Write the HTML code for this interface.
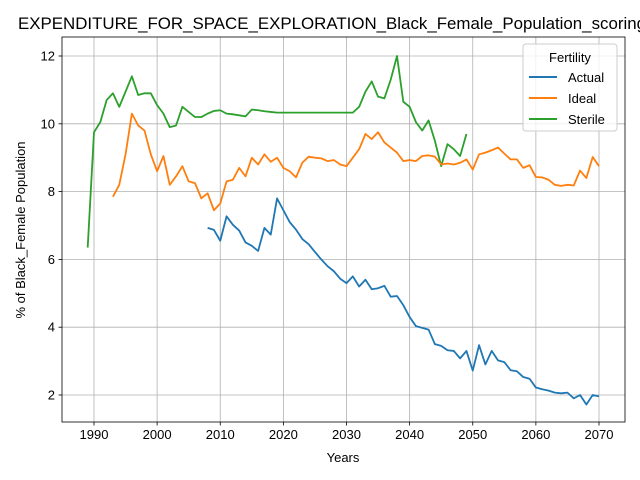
<!DOCTYPE html>
<html><head><meta charset="utf-8"><style>
body{margin:0;background:#fff;font-family:"Liberation Sans","DejaVu Sans",sans-serif;}
svg{display:block}
</style></head><body>
<svg id="chart" width="640" height="480" viewBox="0 0 640 480">
<rect width="640" height="480" fill="#fff"/>
<text x="18" y="29" text-anchor="start" font-size="16.5" textLength="628" lengthAdjust="spacingAndGlyphs" fill="#000">EXPENDITURE_FOR_SPACE_EXPLORATION_Black_Female_Population_scoring</text>
<g id="grid"></g><g id="series"></g><g id="axes"></g>
<text x="343" y="462" text-anchor="middle" font-size="13">Years</text>
<text transform="translate(25,230) rotate(-90)" text-anchor="middle" font-size="13">% of Black_Female Population</text>
<g>
<rect x="523" y="44" width="94" height="87" rx="3" fill="#fff" fill-opacity="0.8" stroke="#ccc"/>
<text x="570" y="62" text-anchor="middle" font-size="13">Fertility</text>
<g><line x1="529" y1="77" x2="557" y2="77" stroke="#1f77b4" stroke-width="2"/><text x="568" y="82" font-size="13">Actual</text></g>
<g><line x1="529" y1="98" x2="557" y2="98" stroke="#ff7f0e" stroke-width="2"/><text x="568" y="103" font-size="13">Ideal</text></g>
<g><line x1="529" y1="119" x2="557" y2="119" stroke="#2ca02c" stroke-width="2"/><text x="568" y="124" font-size="13">Sterile</text></g>
</g>
</svg>
<script>
const sterileStart = 1989;
const sterileValues = [6.35,9.75,10.05,10.7,10.9,10.5,10.95,11.4,10.85,10.9,10.9,10.55,10.3,9.9,9.95,10.5,10.35,10.2,10.2,10.3,10.38,10.4,10.3,10.28,10.25,10.22,10.42,10.4,10.37,10.35,10.33,10.33,10.33,10.33,10.33,10.33,10.33,10.33,10.33,10.33,10.33,10.33,10.33,10.5,10.95,11.25,10.8,10.75,11.3,12.0,10.65,10.5,10.05,9.8,10.1,9.5,8.75,9.4,9.25,9.05,9.7];
const idealStart = 1993;
const idealValues = [7.85,8.2,9.1,10.3,9.95,9.8,9.1,8.6,9.05,8.2,8.45,8.75,8.3,8.25,7.8,7.95,7.45,7.65,8.3,8.35,8.7,8.45,9.0,8.8,9.1,8.88,9.0,8.7,8.6,8.42,8.85,9.03,9.0,8.98,8.9,8.93,8.8,8.75,9.0,9.25,9.7,9.55,9.75,9.45,9.3,9.15,8.9,8.93,8.9,9.05,9.07,9.03,8.8,8.83,8.8,8.85,8.95,8.65,9.1,9.15,9.22,9.3,9.12,8.95,8.95,8.7,8.78,8.43,8.42,8.35,8.2,8.17,8.2,8.18,8.62,8.4,9.02,8.75];
const actualStart = 2008;
const actualValues = [6.93,6.87,6.55,7.27,7.02,6.85,6.5,6.4,6.25,6.93,6.73,7.8,7.45,7.1,6.88,6.6,6.45,6.22,6.0,5.8,5.65,5.43,5.3,5.5,5.2,5.4,5.12,5.15,5.22,4.9,4.92,4.65,4.3,4.03,3.98,3.93,3.5,3.45,3.32,3.3,3.08,3.3,2.72,3.47,2.9,3.3,3.02,2.97,2.73,2.7,2.53,2.48,2.22,2.17,2.13,2.07,2.05,2.07,1.9,2.0,1.72,2.0,1.96];
const xTicks = [1990,2000,2010,2020,2030,2040,2050,2060,2070];
const yTicks = [2,4,6,8,10,12];

const L=62,R=625,T=37,B=422;
const xs = y => 94 + (y-1990)*(599-94)/80;
const ys = v => 395 - (v-2)*(395-56)/10;
const NS="http://www.w3.org/2000/svg";
const mk=(tag,attrs,parent)=>{const e=document.createElementNS(NS,tag);for(const k in attrs)e.setAttribute(k,attrs[k]);parent.appendChild(e);return e;};
const grid=document.getElementById('grid'),axes=document.getElementById('axes'),ser=document.getElementById('series');
xTicks.forEach(t=>{
  const x=xs(t);
  const g=mk('line',{x1:x,x2:x,y1:T,y2:B,stroke:'#b0b0b0','stroke-width':0.8},grid);
  
  
  mk('line',{x1:x,x2:x,y1:B,y2:B+3.5,stroke:'#000','stroke-width':0.8},axes);
  const tx=mk('text',{x:x,y:B+17,'text-anchor':'middle','font-size':13},axes);
  tx.textContent=t;
  
  
});
yTicks.forEach(t=>{
  const y=ys(t);
  const g=mk('line',{x1:L,x2:R,y1:y,y2:y,stroke:'#b0b0b0','stroke-width':0.8},grid);
  
  
  mk('line',{x1:L-3.5,x2:L,y1:y,y2:y,stroke:'#000','stroke-width':0.8},axes);
  const tx=mk('text',{x:L-7,y:y+4.5,'text-anchor':'end','font-size':13},axes);
  tx.textContent=t;
  
  
});
const frame=mk('rect',{x:L,y:T,width:R-L,height:B-T,fill:'none',stroke:'#000','stroke-width':0.8},axes);


function draw(start,vals,color,name){
  const pts=vals.map((v,i)=>xs(start+i).toFixed(2)+','+ys(v).toFixed(2)).join(' ');
  const p=mk('polyline',{points:pts,fill:'none',stroke:color,'stroke-width':1.8,'stroke-linejoin':'round'},ser);
  
  
}
draw(sterileStart,sterileValues,'#2ca02c','sterile-line');
draw(idealStart,idealValues,'#ff7f0e','ideal-line');
draw(actualStart,actualValues,'#1f77b4','actual-line');
</script>
</body></html>
